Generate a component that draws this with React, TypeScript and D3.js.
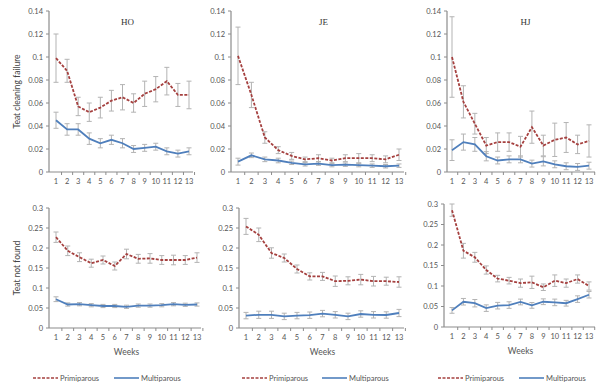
import React from "react";
import * as d3 from "d3";

const weeks = [1, 2, 3, 4, 5, 6, 7, 8, 9, 10, 11, 12, 13];

// Teat cleaning failure
const hoCleanPrim = [0.099, 0.088, 0.057, 0.052, 0.056, 0.062, 0.065, 0.060, 0.068, 0.072, 0.079, 0.067, 0.067];
const hoCleanPrimErr = [0.021, 0.010, 0.008, 0.008, 0.009, 0.009, 0.011, 0.008, 0.011, 0.011, 0.012, 0.010, 0.012];
const hoCleanMulti = [0.045, 0.037, 0.037, 0.029, 0.025, 0.028, 0.025, 0.020, 0.021, 0.022, 0.018, 0.016, 0.018];
const hoCleanMultiErr = [0.007, 0.005, 0.005, 0.005, 0.004, 0.004, 0.004, 0.003, 0.003, 0.003, 0.003, 0.003, 0.003];

const jeCleanPrim = [0.101, 0.067, 0.030, 0.019, 0.014, 0.011, 0.012, 0.010, 0.012, 0.012, 0.012, 0.011, 0.015];
const jeCleanPrimErr = [0.025, 0.011, 0.005, 0.003, 0.003, 0.002, 0.003, 0.002, 0.003, 0.004, 0.003, 0.003, 0.005];
const jeCleanMulti = [0.009, 0.0145, 0.011, 0.010, 0.008, 0.0067, 0.0073, 0.006, 0.0064, 0.006, 0.0055, 0.005, 0.0055];
const jeCleanMultiErr = [0.003, 0.002, 0.002, 0.002, 0.0015, 0.0015, 0.0015, 0.0015, 0.0015, 0.0015, 0.0015, 0.0015, 0.0015];

const hjCleanPrim = [0.100, 0.061, 0.042, 0.023, 0.026, 0.026, 0.022, 0.039, 0.023, 0.028, 0.030, 0.024, 0.027];
const hjCleanPrimErr = [0.035, 0.014, 0.009, 0.007, 0.008, 0.008, 0.009, 0.014, 0.009, 0.0145, 0.013, 0.008, 0.014];
const hjCleanMulti = [0.019, 0.026, 0.024, 0.0137, 0.010, 0.011, 0.011, 0.0073, 0.0093, 0.0067, 0.005, 0.0044, 0.0055];
const hjCleanMultiErr = [0.009, 0.007, 0.006, 0.004, 0.003, 0.003, 0.003, 0.003, 0.004, 0.003, 0.003, 0.003, 0.003];

// Teat not found
const hoFoundPrim = [0.227, 0.193, 0.177, 0.162, 0.170, 0.155, 0.185, 0.173, 0.174, 0.170, 0.170, 0.170, 0.176];
const hoFoundPrimErr = [0.013, 0.012, 0.011, 0.010, 0.010, 0.010, 0.012, 0.011, 0.012, 0.011, 0.012, 0.011, 0.012];
const hoFoundMulti = [0.072, 0.0587, 0.0595, 0.057, 0.055, 0.055, 0.053, 0.056, 0.056, 0.057, 0.0595, 0.058, 0.0587];
const hoFoundMultiErr = [0.006, 0.004, 0.004, 0.004, 0.004, 0.004, 0.004, 0.004, 0.004, 0.004, 0.004, 0.004, 0.004];

const jeFoundPrim = [0.254, 0.233, 0.1875, 0.175, 0.1475, 0.129, 0.129, 0.117, 0.118, 0.121, 0.117, 0.117, 0.115];
const jeFoundPrimErr = [0.020, 0.017, 0.013, 0.010, 0.010, 0.009, 0.010, 0.013, 0.010, 0.013, 0.012, 0.010, 0.013];
const jeFoundMulti = [0.031, 0.033, 0.033, 0.029, 0.031, 0.032, 0.036, 0.033, 0.029, 0.035, 0.033, 0.0325, 0.0375];
const jeFoundMultiErr = [0.008, 0.009, 0.009, 0.008, 0.008, 0.008, 0.008, 0.008, 0.008, 0.008, 0.008, 0.008, 0.009];

const hjFoundPrim = [0.285, 0.186, 0.170, 0.139, 0.118, 0.113, 0.107, 0.109, 0.097, 0.113, 0.107, 0.117, 0.100];
const hjFoundPrimErr = [0.015, 0.018, 0.012, 0.010, 0.008, 0.008, 0.010, 0.015, 0.008, 0.014, 0.010, 0.010, 0.010];
const hjFoundMulti = [0.0405, 0.0616, 0.058, 0.046, 0.052, 0.0535, 0.061, 0.0527, 0.0616, 0.060, 0.058, 0.068, 0.0787];
const hjFoundMultiErr = [0.007, 0.008, 0.009, 0.008, 0.008, 0.008, 0.007, 0.007, 0.007, 0.008, 0.007, 0.008, 0.008];

const cleanTicks = [0, 0.02, 0.04, 0.06, 0.08, 0.1, 0.12, 0.14];
const foundTicks = [0, 0.05, 0.1, 0.15, 0.2, 0.25, 0.3];

const PRIM = "#a5403f";
const MULTI = "#4f7fbc";
const ERR = "#b3b3b3";
const AXIS = "#8c8c8c";
const FONT = "Lato, 'Open Sans', sans-serif";

type PanelProps = {
  title?: string;
  prim: number[];
  primErr: number[];
  multi: number[];
  multiErr: number[];
  ticks: number[];
  yMax: number;
  axisX: number;
  x0: number;
  x1: number;
  axisEnd: number;
  yTop: number;
  yBottom: number;
  yLabel?: string;
  bottom?: boolean;
};

const Panel = (p: PanelProps) => {
  const x = d3.scaleLinear().domain([1, 13]).range([p.x0, p.x1]);
  const y = d3.scaleLinear().domain([0, p.yMax]).range([p.yBottom, p.yTop]);
  const line = d3
    .line<number>()
    .x((_, i) => x(weeks[i]))
    .y(d => y(d));
  const step = x(2) - x(1);
  const fmt = (v: number) => (v === 0 ? "0" : String(+v.toFixed(2)));

  const errBars = (vals: number[], errs: number[], key: string) =>
    vals.map((v, i) => {
      const cx = x(weeks[i]);
      const t = y(v + errs[i]);
      const b = y(Math.max(0, v - errs[i]));
      return (
        <g key={key + i} stroke={ERR} strokeWidth={1}>
          <line x1={cx} x2={cx} y1={t} y2={b} />
          <line x1={cx - 2.5} x2={cx + 2.5} y1={t} y2={t} />
          <line x1={cx - 2.5} x2={cx + 2.5} y1={b} y2={b} />
        </g>
      );
    });

  return (
    <g fontFamily={FONT}>
      {/* y axis */}
      <line x1={p.axisX} x2={p.axisX} y1={p.yTop} y2={p.yBottom} stroke={AXIS} strokeWidth={1.2} />
      {p.ticks.map(t => (
        <g key={"yt" + t}>
          <line x1={p.axisX - 3} x2={p.axisX} y1={y(t)} y2={y(t)} stroke={AXIS} />
          <text x={p.axisX - 6} y={y(t) + 2.8} fontSize={7.5} fill="#555" textAnchor="end">
            {fmt(t)}
          </text>
        </g>
      ))}
      {/* x axis */}
      <line x1={p.axisX} x2={p.axisEnd} y1={p.yBottom} y2={p.yBottom} stroke={AXIS} strokeWidth={1.2} />
      {weeks.map(w => (
        <g key={"xt" + w}>
          <line
            x1={x(w) + step / 2}
            x2={x(w) + step / 2}
            y1={p.yBottom}
            y2={p.yBottom + 3}
            stroke={AXIS}
          />
          <text x={x(w)} y={p.yBottom + 12} fontSize={7.5} fill="#555" textAnchor="middle">
            {w}
          </text>
        </g>
      ))}
      {errBars(p.prim, p.primErr, "pe")}
      {errBars(p.multi, p.multiErr, "me")}
      <path d={line(p.multi) || ""} fill="none" stroke={MULTI} strokeWidth={1.8} />
      <path d={line(p.prim) || ""} fill="none" stroke={PRIM} strokeWidth={1.8} strokeDasharray="3,1.5" />
      {p.title && (
        <text
          x={(p.x0 + p.x1) / 2 + 5}
          y={p.yTop + 14}
          fontSize={9}
          fontFamily="'Liberation Serif', serif"
          fill="#333"
          textAnchor="middle"
        >
          {p.title}
        </text>
      )}
      {p.yLabel && (
        <text
          transform={`translate(20,${(p.yTop + p.yBottom) / 2}) rotate(-90)`}
          fontSize={8.5}
          fill="#444"
          textAnchor="middle"
        >
          {p.yLabel}
        </text>
      )}
      {p.bottom && (
        <g>
          <text x={(p.x0 + p.x1) / 2} y={p.yBottom + 27} fontSize={8.5} fill="#555" textAnchor="middle">
            Weeks
          </text>
        </g>
      )}
    </g>
  );
};

const Legend = ({ x, gap }: { x: number; gap: number }) => (
  <g fontFamily={FONT} fontSize={7.5} fill="#555">
    <line x1={x} x2={x + 25} y1={378} y2={378} stroke={PRIM} strokeWidth={1.6} strokeDasharray="3,1.5" />
    <text x={x + 27} y={380.5}>Primiparous</text>
    <line x1={x + gap} x2={x + gap + 25} y1={378} y2={378} stroke={MULTI} strokeWidth={1.6} />
    <text x={x + gap + 27} y={380.5}>Multiparous</text>
  </g>
);

export default function App() {
  return (
    <svg
      width={600}
      height={387}
      style={{ position: "absolute", left: 0, top: 0, background: "#fff" }}
    >
      <Panel title="HO" prim={hoCleanPrim} primErr={hoCleanPrimErr} multi={hoCleanMulti} multiErr={hoCleanMultiErr}
        ticks={cleanTicks} yMax={0.14} axisX={49} x0={56} x1={189} axisEnd={193} yTop={11} yBottom={172}
        yLabel="Teat cleaning failure" />
      <Panel title="JE" prim={jeCleanPrim} primErr={jeCleanPrimErr} multi={jeCleanMulti} multiErr={jeCleanMultiErr}
        ticks={cleanTicks} yMax={0.14} axisX={231} x0={238} x1={399} axisEnd={404} yTop={11} yBottom={172} />
      <Panel title="HJ" prim={hjCleanPrim} primErr={hjCleanPrimErr} multi={hjCleanMulti} multiErr={hjCleanMultiErr}
        ticks={cleanTicks} yMax={0.14} axisX={447} x0={452} x1={589} axisEnd={595} yTop={11} yBottom={172} />

      <Panel prim={hoFoundPrim} primErr={hoFoundPrimErr} multi={hoFoundMulti} multiErr={hoFoundMultiErr}
        ticks={foundTicks} yMax={0.3} axisX={49} x0={56} x1={197} axisEnd={201} yTop={208} yBottom={328}
        yLabel="Teat not found" bottom />
      <Panel prim={jeFoundPrim} primErr={jeFoundPrimErr} multi={jeFoundMulti} multiErr={jeFoundMultiErr}
        ticks={foundTicks} yMax={0.3} axisX={239} x0={246} x1={399} axisEnd={404} yTop={208} yBottom={328} bottom />
      <Panel prim={hjFoundPrim} primErr={hjFoundPrimErr} multi={hjFoundMulti} multiErr={hjFoundMultiErr}
        ticks={foundTicks} yMax={0.3} axisX={444} x0={452} x1={589} axisEnd={595} yTop={204} yBottom={327} bottom />

      <Legend x={33} gap={81} />
      <Legend x={242} gap={80} />
      <Legend x={438} gap={81} />
    </svg>
  );
}
